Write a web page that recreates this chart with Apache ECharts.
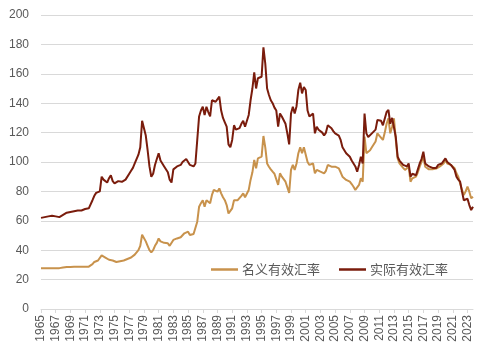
<!DOCTYPE html>
<html>
<head>
<meta charset="utf-8">
<script src="https://cdn.jsdelivr.net/npm/echarts@6/dist/echarts.min.js"></script>
<style>html,body{margin:0;padding:0;background:#fff}#c{width:482px;height:361px}</style>
</head>
<body>
<div id="c"></div>
<script>
// Quarterly values, 1965Q1 .. 2023Q4 (one row per year: Q1..Q4)
var firstYear = 1965;
var lastYear = 2023;
var seriesNames = ['名义有效汇率', '实际有效汇率'];
var nominal = [
  27.7,27.7,27.7,27.7, 27.7,27.7,27.7,27.7, 27.7,27.7,27.8,27.8, 28.2,28.3,28.5,28.5,
  28.6,28.7,28.7,28.7, 28.7,28.7,28.7,28.7, 28.7,28.7,28.8,28.8, 30.5,32,32.5,33,
  33.3,36.5,35.8,35, 34.5,33.5,33.3,33, 32.2,32,32.3,32.5, 32.9,33,33.5,34,
  34.5,35,35.6,37, 37.9,40,43,50.5, 50,46,43,40, 38.5,40,43,45,
  48,46,45.5,45, 45.8,44.7,43,42, 47,47.4,48,48.5, 48.8,50,51.5,52,
  52.6,50.3,50.5,51, 51.5,59.4,69.6,72, 74,69.6,74,73, 71.9,77.6,81,80,
  79.8,82,78.7,76, 74,70.7,65,64, 68.5,74,73,74, 75.3,77,78.7,76,
  76.4,81,87.8,93, 101.4,95.7,102.5,103, 103.6,117.7,110,99, 96.8,95,93.4,92,
  91,84.4,92.3,90, 90,86.6,87.8,79, 94.6,98,94.6,99, 106,110,106,110,
  109,100,98,99, 99,92.3,94.6,94, 93.4,93,92.3,94, 98,97,96.8,96,
  96.8,96,95.7,93, 90,89,87.8,87, 86.6,85,83.2,81, 79.8,84.4,88.9,86.6,
  117.2,106,107,108, 110,109,114,119.5, 118,117,115,120, 126,129.7,119.5,124,
  129.7,115,102.5,99, 99,96,94.6,95, 96.8,86.6,88.9,89, 90,93,96.8,100,
  103.6,96.8,95.7,95, 94.6,95,95.7,95.5, 96.8,97,98,99, 101.4,99,99,98,
  98,95.7,92.3,90, 88.9,81,77.6,80, 83.2,79.8,75.3,76.4
];
var real = [
  62,61.5,62.5,63, 63,62.5,63.5,63, 63,63.5,62.5,62, 64,65,65.5,65,
  66,65.5,66.5,66.5, 67,67.5,67,68, 68,68,68.5,69, 74,77,79,80,
  80,90,88,87, 86,89,91,87, 85.5,86,87,86.5, 86.5,87,88,88,
  92,94,96,99, 100,105,110,128, 129,118,108,97, 90,92,98,102,
  106,101,99,97, 96,93,88,86, 95,96,97,98, 98,100,101,102,
  102,98,97,97, 99,115,131,135, 137.6,132,137.6,134, 131,142,143,141,
  142,144.5,135,130, 127,124,112,110, 115,125,122,123, 123,126,128,124,
  125,132,142,150, 161,150,157,157, 158,178,167,150, 145.6,142,140,137,
  135,124,133,131, 131,126,119.5,112, 133,137.6,133,138, 149,154,146.7,151,
  149,135,131,132, 133,119.5,124,122, 122,120,118,120, 125,124,123,121,
  119.5,120,118,115, 110,108,106,105, 103.6,101,99,97, 93.4,98,103.6,99,
  133,119.5,117,118, 119.5,120,122,128.6, 129.7,128,125,125, 134,135.4,126,130,
  131,117,103.6,101, 101,98,97,97, 99,90,92,91, 91,95,99,102,
  107,99,98,97, 97,96,97,96, 98,97,99,100, 102.5,100,99,98,
  98,94.6,90,88, 86.6,80,74,73, 75,70.7,67.3,69.6
];
var yTicks = {min: 0, max: 200, interval: 20};

var categories = [];
for (var y = firstYear; y <= lastYear; y++) {
  for (var q = 1; q <= 4; q++) categories.push(y + '-Q' + q);
}
function showLabel(idx) { return idx % 8 === 0; }

var chart = echarts.init(document.getElementById('c'));
var txt = '#595959';
chart.setOption({
  animation: false,
  backgroundColor: '#fff',
  grid: {left: 41, right: 9, top: 15, bottom: 52, containLabel: false},
  legend: {
    data: seriesNames,
    left: 206, top: 258,
    icon: 'rect', itemWidth: 27, itemHeight: 2.5, itemGap: 19,
    textStyle: {fontFamily: 'Noto Sans CJK SC', fontSize: 13, color: txt, padding: [0,0,0,-1]}
  },
  xAxis: {
    type: 'category', data: categories, boundaryGap: false,
    axisLine: {lineStyle: {color: '#d9d9d9', width: 1}},
    axisTick: {show: true, interval: function(i){return showLabel(i);}, length: 4, lineStyle: {color: '#d9d9d9'}},
    axisLabel: {
      interval: function(i){return showLabel(i);}, rotate: 90, margin: 6,
      formatter: function(v){return v.slice(0,4);},
      fontFamily: 'Liberation Sans', fontSize: 12, color: txt
    },
    splitLine: {show: false}
  },
  yAxis: {
    type: 'value', min: yTicks.min, max: yTicks.max, interval: yTicks.interval,
    axisLine: {show: false}, axisTick: {show: false},
    axisLabel: {fontFamily: 'Liberation Sans', fontSize: 12, color: txt, margin: 12},
    splitLine: {lineStyle: {color: '#d9d9d9', width: 1.2}}
  },
  series: [
    {name: seriesNames[0], type: 'line', data: nominal, showSymbol: false, symbol: 'none',
     lineStyle: {color: '#C8924C', width: 2}, itemStyle: {color: '#C8924C'}},
    {name: seriesNames[1], type: 'line', data: real, showSymbol: false, symbol: 'none',
     lineStyle: {color: '#7A1C0C', width: 2}, itemStyle: {color: '#7A1C0C'}}
  ]
});
</script>
</body>
</html>
